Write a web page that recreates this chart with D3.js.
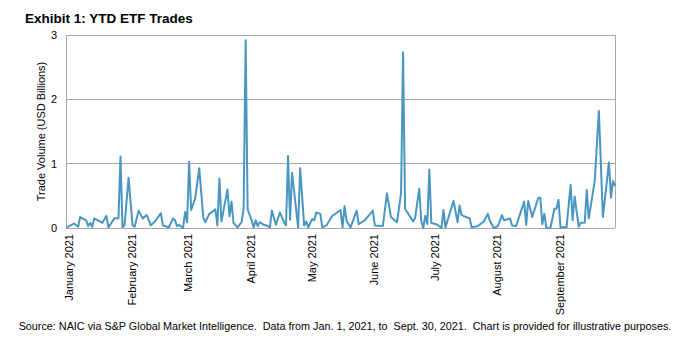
<!DOCTYPE html>
<html><head><meta charset="utf-8">
<script src="https://cdn.jsdelivr.net/npm/d3@7"></script>
<style>html,body{margin:0;padding:0;background:#fff;}svg{display:block;font-family:"Liberation Sans",Arial,sans-serif;}</style>
</head><body>
<svg id="chart" width="678" height="340"></svg>
<script>
const title = "Exhibit 1: YTD ETF Trades";
const yAxisTitle = "Trade Volume (USD Billions)";
const sourceNote = "Source: NAIC via S&P Global Market Intelligence.  Data from Jan. 1, 2021, to  Sept. 30, 2021.  Chart is provided for illustrative purposes.";
const yTicks = [0, 1, 2, 3];
const monthTicks = ["2021-01-01","2021-02-01","2021-03-01","2021-04-01","2021-05-01","2021-06-01","2021-07-01","2021-08-01","2021-09-01"];
const monthLabels = ["January 2021","February 2021","March 2021","April 2021","May 2021","June 2021","July 2021","August 2021","September 2021"];
const dateRange = ["2021-01-01","2021-09-30"];
const dates = [
"2021-01-01","2021-01-05","2021-01-07","2021-01-08","2021-01-11","2021-01-12","2021-01-13","2021-01-14","2021-01-15","2021-01-19",
"2021-01-21","2021-01-22","2021-01-25","2021-01-27","2021-01-28","2021-01-29","2021-01-30","2021-02-01","2021-02-03","2021-02-04",
"2021-02-06","2021-02-08","2021-02-10","2021-02-12","2021-02-14","2021-02-17","2021-02-18","2021-02-21","2021-02-23","2021-02-24",
"2021-02-25","2021-02-26","2021-02-28","2021-03-01","2021-03-02","2021-03-03","2021-03-04","2021-03-06","2021-03-08","2021-03-10",
"2021-03-11","2021-03-13","2021-03-16","2021-03-17","2021-03-18","2021-03-19","2021-03-22","2021-03-23","2021-03-24","2021-03-25",
"2021-03-27","2021-03-29","2021-03-30","2021-03-31","2021-04-01","2021-04-03","2021-04-04","2021-04-05","2021-04-06","2021-04-07",
"2021-04-09","2021-04-11","2021-04-12","2021-04-13","2021-04-15","2021-04-17","2021-04-19","2021-04-20","2021-04-21","2021-04-22",
"2021-04-23","2021-04-26","2021-04-27","2021-04-29","2021-04-30","2021-05-01","2021-05-03","2021-05-04","2021-05-05","2021-05-07",
"2021-05-08","2021-05-10","2021-05-13","2021-05-14","2021-05-17","2021-05-18","2021-05-19","2021-05-20","2021-05-22","2021-05-25",
"2021-05-26","2021-05-29","2021-06-02","2021-06-03","2021-06-07","2021-06-09","2021-06-11","2021-06-14","2021-06-16","2021-06-17",
"2021-06-18","2021-06-22","2021-06-23","2021-06-25","2021-06-26","2021-06-27","2021-06-28","2021-06-29","2021-06-30","2021-07-01",
"2021-07-04","2021-07-06","2021-07-07","2021-07-08","2021-07-12","2021-07-14","2021-07-15","2021-07-16","2021-07-19","2021-07-20",
"2021-07-21","2021-07-24","2021-07-27","2021-07-29","2021-07-30","2021-08-01","2021-08-03","2021-08-05","2021-08-06","2021-08-09",
"2021-08-10","2021-08-12","2021-08-16","2021-08-17","2021-08-18","2021-08-20","2021-08-23","2021-08-24","2021-08-25","2021-08-26",
"2021-08-27","2021-08-29","2021-08-31","2021-09-01","2021-09-02","2021-09-03","2021-09-06","2021-09-08","2021-09-09","2021-09-10",
"2021-09-12","2021-09-13","2021-09-15","2021-09-16","2021-09-17","2021-09-20","2021-09-22","2021-09-24","2021-09-27","2021-09-28",
"2021-09-29","2021-09-30"];
const volumes = [
0.00,0.07,0.02,0.17,0.12,0.03,0.08,0.02,0.15,0.08,
0.19,0.01,0.15,0.15,1.11,0.01,0.04,0.78,0.04,0.02,
0.27,0.15,0.20,0.04,0.10,0.23,0.04,0.01,0.15,0.12,
0.03,0.05,0.00,0.25,0.09,1.03,0.28,0.46,0.93,0.17,
0.09,0.22,0.29,0.04,0.77,0.10,0.60,0.18,0.41,0.08,
0.01,0.09,0.30,2.92,0.29,0.12,0.01,0.12,0.03,0.09,
0.05,0.03,0.01,0.27,0.05,0.24,0.09,0.04,1.12,0.13,
0.86,0.01,0.93,0.04,0.10,0.01,0.14,0.12,0.24,0.22,
0.01,0.04,0.19,0.21,0.28,0.01,0.34,0.11,0.01,0.27,
0.06,0.12,0.27,0.04,0.03,0.54,0.17,0.09,0.54,2.73,
0.30,0.10,0.16,0.61,0.11,0.00,0.19,0.06,0.91,0.08,
0.05,0.00,0.28,0.01,0.42,0.09,0.35,0.20,0.16,0.15,
0.01,0.03,0.10,0.22,0.11,0.00,0.03,0.20,0.12,0.15,
0.04,0.03,0.41,0.05,0.42,0.17,0.47,0.47,0.06,0.22,
0.00,0.00,0.30,0.30,0.44,0.01,0.01,0.67,0.12,0.49,
0.02,0.08,0.08,0.59,0.15,0.74,1.82,0.17,1.02,0.47,
0.73,0.65];

const parse = d3.utcParse("%Y-%m-%d");
const data = dates.map((d, i) => ({date: parse(d), value: volumes[i]}));

const svg = d3.select("#chart");
const m = {left: 66, right: 63, top: 35, bottom: 112};
const W = 678, H = 340;
const x = d3.scaleUtc().domain(dateRange.map(parse)).range([m.left, W - m.right]);
const y = d3.scaleLinear().domain([0, 3]).range([H - m.bottom, m.top]);

const gridColor = "#a6a6a6";
svg.append("g").selectAll("line").data(yTicks.filter(t => t > 0)).join("line")
  .attr("x1", m.left).attr("x2", W - m.right)
  .attr("y1", d => y(d)).attr("y2", d => y(d))
  .attr("stroke", gridColor).attr("stroke-width", 1).attr("shape-rendering", "crispEdges");
svg.append("line").attr("x1", m.left).attr("x2", m.left).attr("y1", y(3)).attr("y2", y(0))
  .attr("stroke", gridColor).attr("shape-rendering", "crispEdges");
svg.append("line").attr("x1", W - m.right).attr("x2", W - m.right).attr("y1", y(3)).attr("y2", y(0))
  .attr("stroke", gridColor).attr("shape-rendering", "crispEdges");
svg.append("line").attr("x1", m.left).attr("x2", W - m.right).attr("y1", y(0)).attr("y2", y(0))
  .attr("stroke", gridColor).attr("shape-rendering", "crispEdges");

const yAxis = d3.axisLeft(y).tickValues(yTicks).tickFormat(d3.format("d")).tickSize(0).tickPadding(9);
const gy = svg.append("g").attr("transform", `translate(${m.left},0)`).call(yAxis);
gy.select(".domain").remove();
gy.selectAll("text").attr("font-size", 11).attr("fill", "#000").attr("font-family", "Liberation Sans, Arial, sans-serif");

const xAxis = d3.axisBottom(x).tickValues(monthTicks.map(parse))
  .tickFormat((d, i) => monthLabels[i]).tickSize(0).tickPadding(0);
const gx = svg.append("g").attr("transform", `translate(0,${y(0)})`).call(xAxis);
gx.select(".domain").remove();
gx.selectAll("text")
  .attr("font-size", 11).attr("fill", "#000").attr("font-family", "Liberation Sans, Arial, sans-serif")
  .attr("text-anchor", "end")
  .attr("x", -6).attr("y", 0).attr("dy", "0.35em")
  .attr("transform", "translate(3,0) rotate(-90)");

const line = d3.line().x(d => x(d.date)).y(d => y(d.value));
svg.append("path").datum(data).attr("d", line)
  .attr("fill", "none").attr("stroke", "#4a96c2").attr("stroke-width", 2).attr("stroke-linejoin", "round");

svg.append("text").attr("x", 25).attr("y", 23).text(title)
  .attr("font-size", 13.5).attr("font-weight", "bold").attr("fill", "#000");
svg.append("text").attr("transform", `translate(45,${(y(0) + y(3)) / 2}) rotate(-90)`)
  .attr("text-anchor", "middle").attr("font-size", 11).attr("fill", "#000").text(yAxisTitle);
svg.append("text").attr("x", 345).attr("y", 330).attr("text-anchor", "middle")
  .attr("font-size", 10.8).attr("fill", "#000").style("white-space", "pre").text(sourceNote);
</script>
</body></html>
